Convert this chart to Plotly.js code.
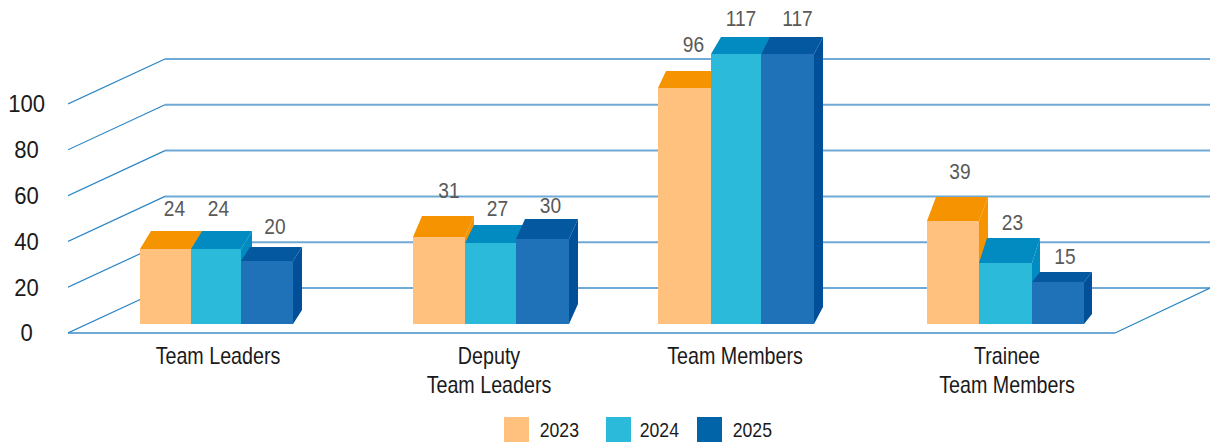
<!DOCTYPE html>
<html><head><meta charset="utf-8">
<script src="https://cdn.plot.ly/plotly-3.0.1.min.js"></script>
<style>html,body{margin:0;padding:0;background:#fff;overflow:hidden}#chart{width:1210px;height:444px}</style>
</head><body><div id="chart"></div>
<script>
// ---- data ----
const categories = ['Team Leaders', 'Deputy<br>Team Leaders', 'Team Members', 'Trainee<br>Team Members'];
const seriesNames = ['2023', '2024', '2025'];
const labels2023 = [24, 31, 96, 39];
const labels2024 = [24, 27, 117, 23];
const labels2025 = [20, 30, 117, 15];
// bar-front heights as they read on the value axis (the drawing is not proportional to its labels)
const drawn2023 = [36.7, 41.9, 107.0, 48.9];
const drawn2024 = [36.7, 39.3, 121.8, 30.6];
const drawn2025 = [31.4, 41.0, 121.8, 22.3];
const yTickValues = [0, 20, 40, 60, 80, 100];

// ---- geometry (separate from the data) ----
const W = 1210, H = 444, plotLeft = 68, plotBottom = 334, zeroPx = 333, pxPerUnit = 2.29;
const barBase = 9 / pxPerUnit;
const barEdges = [[140,191,241,293],[413,465,516,569],[658,711,761,814],[927,979,1032,1084]];
const catCenters = [218, 489, 735, 1007];
const slantX = [[11,9,8,9],[11,9,10,8],[9,9,9,8]];
const slantY = [[18,21,17,24],[18,18,17,25],[14,20,17,10]];
const labelOffX = [[9,10,9,7],[2.5,7,5,7],[8,8,10,7]];
const labelOffY = [[20,24,24,24],[20,15,17,13],[19,12,17,13]];
const wallDx = 97, wallDy = 45, floorRight = 1115;

// ---- styles ----
const frontColors = ['#FFC17D', '#2BBAD9', '#1F71B8'];
const topColors = ['#F59300', '#028BC1', '#0358A0'];
const sideColors = ['#F59300', '#028BC1', '#024F99'];
const legendColors = ['#FFC17D', '#2BBAD9', '#0164A8'];
const fontFam = '"Liberation Sans",Arial,sans-serif';

const labels = [labels2023, labels2024, labels2025];
const drawn = [drawn2023, drawn2024, drawn2025];
const u = px => px / pxPerUnit;
const traces = [];
const yMax = (zeroPx - 0) / pxPerUnit;
const yMin = (zeroPx - plotBottom) / pxPerUnit;

// wall and floor lines
const diagX = [], diagY = [], horizX = [], horizY = [];
yTickValues.forEach(v => {
  diagX.push(plotLeft, plotLeft + wallDx, null);
  diagY.push(v, v + u(wallDy), null);
  horizX.push(plotLeft + wallDx, W, null);
  horizY.push(v + u(wallDy), v + u(wallDy), null);
});
diagX.push(floorRight, W, null); diagY.push(0, u(wallDy), null);
traces.push({type:'scatter', mode:'lines', x:horizX, y:horizY, line:{color:'#6FA9D6', width:2}, hoverinfo:'skip', showlegend:false});
traces.push({type:'scatter', mode:'lines', x:[plotLeft, floorRight], y:[0,0], line:{color:'#6FA9D6', width:2}, hoverinfo:'skip', showlegend:false});
traces.push({type:'scatter', mode:'lines', x:diagX, y:diagY, line:{color:'#2A85C5', width:1.2}, hoverinfo:'skip', showlegend:false});

// side and top faces, series by series so later bars cover earlier ones
seriesNames.forEach((name, s) => {
  const sx = [], sy = [], tx = [], ty = [];
  drawn[s].forEach((v, g) => {
    const x0 = barEdges[g][s], x1 = barEdges[g][s + 1], dx = slantX[s][g], dy = u(slantY[s][g]);
    sx.push(x1, x1 + dx, x1 + dx, x1, x1, null);
    sy.push(v, v + dy, barBase + dy, barBase, v, null);
    tx.push(x0, x1, x1 + dx, x0 + dx, x0, null);
    ty.push(v, v, v + dy, v + dy, v, null);
  });
  traces.push({type:'scatter', mode:'none', fill:'toself', fillcolor:sideColors[s], x:sx, y:sy, hoverinfo:'skip', showlegend:false});
  traces.push({type:'scatter', mode:'none', fill:'toself', fillcolor:topColors[s], x:tx, y:ty, hoverinfo:'skip', showlegend:false});
});

// front faces, on an overlaid axis so they sit above the side faces
seriesNames.forEach((name, s) => {
  traces.push({
    type:'bar', name:name, yaxis:'y2',
    x: drawn[s].map((v, g) => (barEdges[g][s] + barEdges[g][s + 1]) / 2),
    width: drawn[s].map((v, g) => barEdges[g][s + 1] - barEdges[g][s]),
    y: drawn[s].map(v => v - barBase), base: barBase,
    marker:{color:frontColors[s], line:{width:0}},
    customdata: labels[s], hovertemplate:name + ': %{customdata}<extra></extra>', showlegend:false
  });
});

// value labels
seriesNames.forEach((name, s) => {
  traces.push({
    type:'scatter', mode:'text', yaxis:'y2', cliponaxis:false,
    x: drawn[s].map((v, g) => (barEdges[g][s] + barEdges[g][s + 1]) / 2 + labelOffX[s][g]),
    y: drawn[s].map((v, g) => v + u(slantY[s][g] + labelOffY[s][g])),
    text: labels[s].map(String), textposition:'middle center',
    textfont:{family:fontFam, size:22, color:'#595959'}, hoverinfo:'skip', showlegend:false
  });
});

// legend
const paperX = px => (px - plotLeft) / (W - plotLeft);
const paperY = py => (plotBottom - py) / plotBottom;
const legendX = [504, 606, 697];
const legendTextX = [559.5, 660, 752.5];
const shapes = seriesNames.map((n, i) => ({type:'rect', xref:'paper', yref:'paper',
  x0:paperX(legendX[i]), x1:paperX(legendX[i] + 25), y0:paperY(442), y1:paperY(417),
  fillcolor:legendColors[i], line:{width:0}}));
const annotations = seriesNames.map((n, i) => ({xref:'paper', yref:'paper', showarrow:false,
  x:paperX(legendTextX[i]), y:paperY(429), xanchor:'center', yanchor:'middle', text:n,
  font:{family:fontFam, size:21, color:'#1a1a1a'}}));

const yAxisBase = {range:[yMin, yMax], fixedrange:true, zeroline:false, showgrid:false, showline:false};
const layout = {
  width:W, height:H, autosize:false, barmode:'overlay', showlegend:false,
  paper_bgcolor:'#fff', plot_bgcolor:'#fff',
  margin:{l:plotLeft, r:0, t:0, b:H - plotBottom, pad:0},
  xaxis:{range:[plotLeft, W], fixedrange:true, zeroline:false, showgrid:false, showline:false,
    tickmode:'array', tickvals:catCenters, ticktext:categories, ticks:'', ticklabelstandoff:5,
    tickfont:{family:fontFam, size:24, color:'#1a1a1a'}},
  yaxis:Object.assign({}, yAxisBase, {tickmode:'array', tickvals:yTickValues,
    ticktext:yTickValues.map(v => String(v) + '\u00a0'.repeat(3 - String(v).length)),
    ticks:'', ticklabelstandoff:22, tickfont:{family:fontFam, size:24, color:'#1a1a1a'}}),
  yaxis2:Object.assign({}, yAxisBase, {overlaying:'y', visible:false}),
  shapes:shapes, annotations:annotations
};

// The reference uses a condensed Arial; narrow the real text to the same widths.
function narrow(node, k) {
  const len = node.getComputedTextLength();
  if (len > 0) { node.setAttribute('textLength', (len * k).toFixed(2)); node.setAttribute('lengthAdjust', 'spacingAndGlyphs'); }
}
function narrowAll(root, selector, k) {
  root.querySelectorAll(selector).forEach(t => {
    const lines = t.querySelectorAll('tspan.line');
    if (lines.length) {
      lines.forEach((l, i) => { narrow(l, k); if (i > 0) l.setAttribute('dy', (1.2 * i) + 'em'); });
    } else narrow(t, k);
  });
}
Plotly.newPlot('chart', traces, layout, {displayModeBar:false, staticPlot:true}).then(gd => {
  narrowAll(gd, '.xtick text', 0.82);
  narrowAll(gd, '.ytick text', 0.92);
  narrowAll(gd, '.textpoint text', 0.87);
  narrowAll(gd, '.annotation-text', 0.84);
});
</script></body></html>
